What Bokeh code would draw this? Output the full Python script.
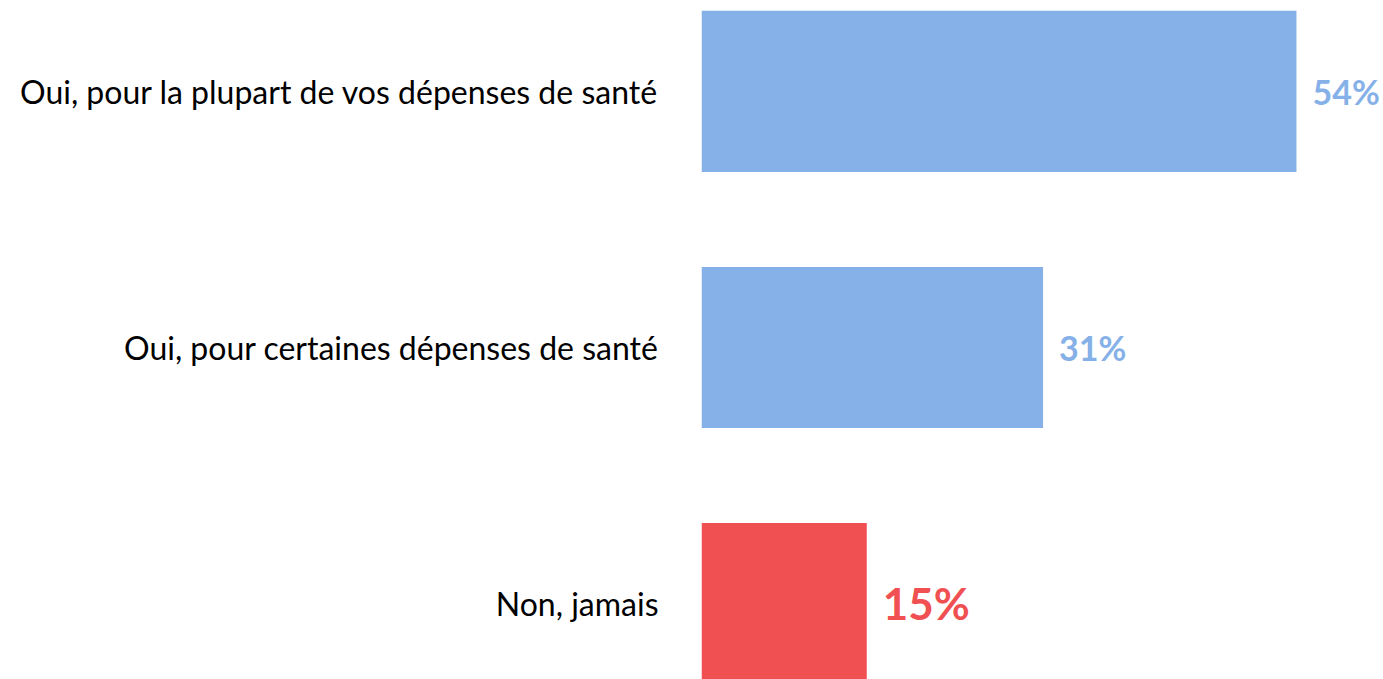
from bokeh.plotting import figure
from bokeh.models import ColumnDataSource, Range1d, FixedTicker
from bokeh.core.properties import value
from bokeh.embed import file_html
from bokeh.resources import INLINE

categories = [
    "Oui, pour la plupart de vos dépenses de santé",
    "Oui, pour certaines dépenses de santé",
    "Non, jamais",
]
values = [54, 31, 15]
value_labels = ["54%", "31%", "15%"]

BLUE = "#85B1E8"
RED = "#F05052"
highlight = 2  # index of highlighted category

positions = list(range(len(categories)))
colors = [RED if i == highlight else BLUE for i in positions]
sizes = ["44px" if i == highlight else "34px" for i in positions]

src = ColumnDataSource(dict(pos=positions, val=values, lab=value_labels,
                            color=colors, size=sizes))

p = figure(width=1383, height=679, output_backend="svg", toolbar_location=None,
           x_range=Range1d(0, 61.9), y_range=Range1d(2.297, -0.355),
           min_border_left=701, min_border_right=0, min_border_top=0,
           min_border_bottom=0, x_axis_location=None)
p.outline_line_color = None
p.grid.visible = False

p.hbar(y="pos", left=0, right="val", height=0.629, fill_color="color",
       line_color=None, source=src)

p.text(x="val", y="pos", text="lab", x_offset=16, text_baseline="middle",
       text_align="left", text_font=value("Lato"), text_font_style="bold",
       text_font_size="size", text_color="color", source=src)

ax = p.yaxis[0]
ax.ticker = FixedTicker(ticks=positions)
ax.major_label_overrides = {i: c for i, c in zip(positions, categories)}
ax.axis_line_color = None
ax.major_tick_line_color = None
ax.minor_tick_line_color = None
ax.major_tick_in = 0
ax.major_tick_out = 0
ax.major_label_standoff = 43
ax.major_label_text_font = "Lato"
ax.major_label_text_font_size = "32px"
ax.major_label_text_color = "#000000"

open("out.html", "w").write(file_html(p, INLINE))
